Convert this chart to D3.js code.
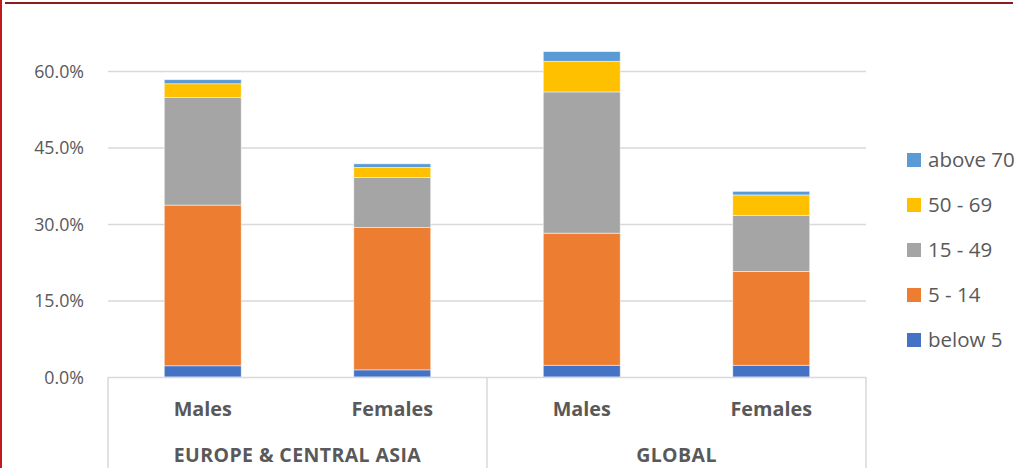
<!DOCTYPE html>
<html>
<head>
<meta charset="utf-8">
<script src="https://cdn.jsdelivr.net/npm/d3@7"></script>
<style>
  html, body { margin: 0; padding: 0; background: #fff; }
  svg { display: block; font-family: "Open Sans", "Liberation Sans", sans-serif; }
</style>
</head>
<body>
<svg id="chart" width="1018" height="468"></svg>
<script>
// Share of deaths by age band, split by sex, for two regions (percent)
const groups = ["EUROPE & CENTRAL ASIA", "GLOBAL"];
const sexes = ["Males", "Females"];
const ageBands = ["below 5", "5 - 14", "15 - 49", "50 - 69", "above 70"];
const below5 = [2.2, 1.4, 2.3, 2.3];
const age5to14 = [31.5, 27.9, 25.9, 18.4];
const age15to49 = [21.1, 9.8, 27.7, 11.0];
const age50to69 = [2.7, 2.0, 6.0, 4.0];
const above70 = [0.8, 0.7, 1.9, 0.7];
const yTicks = [0, 15, 30, 45, 60];
const bandColors = ["#4472C4", "#ED7D31", "#A5A5A5", "#FFC000", "#5B9BD5"];

const seriesValues = [below5, age5to14, age15to49, age50to69, above70];

// One row per bar: region + sex
const rows = [];
groups.forEach((g, gi) => sexes.forEach((s, si) => {
  const i = gi * sexes.length + si;
  const row = { key: g + "|" + s, group: g, sex: s };
  ageBands.forEach((b, bi) => { row[b] = seriesValues[bi][i]; });
  rows.push(row);
}));

const svg = d3.select("#chart");
const left = 108, right = 866, baseY = 377, topY = 71;

const x = d3.scaleBand().domain(rows.map(r => r.key)).range([left, right]).paddingInner(0.594).paddingOuter(0.297);
const xGroup = d3.scaleBand().domain(groups).range([left, right]);
const y = d3.scaleLinear().domain([0, 60]).range([baseY, topY]);
const color = d3.scaleOrdinal().domain(ageBands).range(bandColors);

// Frame accents
svg.append("rect").attr("x", 0).attr("y", 0).attr("width", 2).attr("height", 468).attr("fill", "#C0191E");
svg.append("rect").attr("x", 5).attr("y", 2).attr("width", 1008).attr("height", 2).attr("fill", "#8B1C1C");

// Gridlines and value labels
const yAxis = d3.axisLeft(y).tickValues(yTicks).tickSize(-(right - left)).tickFormat(d => d3.format(".1f")(d) + "%");
const ga = svg.append("g").attr("transform", `translate(${left},0)`).call(yAxis);
ga.select(".domain").remove();
ga.selectAll(".tick line").attr("stroke", "#D9D9D9").attr("stroke-width", 1.5);
ga.selectAll(".tick").filter(d => d === 0).select("line").remove();
ga.selectAll(".tick text")
  .attr("x", -24).attr("dy", "0.35em")
  .attr("fill", "#595959").style("font-size", "17.8px").style("font-family", "Open Sans");

// Stacked bars
const stacked = d3.stack().keys(ageBands)(rows);
svg.append("g").selectAll("g").data(stacked).join("g")
  .attr("fill", d => color(d.key))
  .selectAll("rect").data(d => d).join("rect")
  .attr("x", d => x(d.data.key))
  .attr("width", x.bandwidth())
  .attr("y", d => y(d[1]))
  .attr("height", d => y(d[0]) - y(d[1]))
  .attr("stroke", "#ffffff").attr("stroke-width", 0.8).attr("stroke-opacity", 0.6);

// Two-level category axis
const axisG = svg.append("g");
axisG.append("line").attr("x1", left).attr("x2", right).attr("y1", baseY + 0.5).attr("y2", baseY + 0.5)
  .attr("stroke", "#D9D9D9").attr("stroke-width", 1.5);
const dividers = groups.map(g => xGroup(g)).concat([right]);
axisG.selectAll("line.div").data(dividers).join("line").attr("class", "div")
  .attr("x1", d => d).attr("x2", d => d).attr("y1", baseY).attr("y2", 468)
  .attr("stroke", "#D9D9D9").attr("stroke-width", 1.5);

axisG.selectAll("text.sex").data(rows).join("text").attr("class", "sex")
  .attr("x", d => x(d.key) + x.bandwidth() / 2).attr("y", 416)
  .attr("text-anchor", "middle").attr("fill", "#595959")
  .style("font-size", "19.8px").style("font-weight", "700")
  .text(d => d.sex);

axisG.selectAll("text.grp").data(groups).join("text").attr("class", "grp")
  .attr("x", d => xGroup(d) + xGroup.bandwidth() / 2).attr("y", 462)
  .attr("text-anchor", "middle").attr("fill", "#595959")
  .style("font-size", "19.5px").style("font-weight", "700")
  .style("letter-spacing", "0.4px")
  .text(d => d);

// Legend, top band first
const legend = svg.append("g");
const legendBands = ageBands.slice().reverse();
const li = legend.selectAll("g").data(legendBands).join("g")
  .attr("transform", (d, i) => `translate(907,${160 + i * 45})`);
li.append("rect").attr("x", 0).attr("y", -7).attr("width", 14).attr("height", 14).attr("fill", d => color(d));
li.append("text").attr("x", 21).attr("dy", "0.36em").attr("fill", "#595959")
  .style("font-size", "20.5px").text(d => d);
</script>
</body>
</html>
